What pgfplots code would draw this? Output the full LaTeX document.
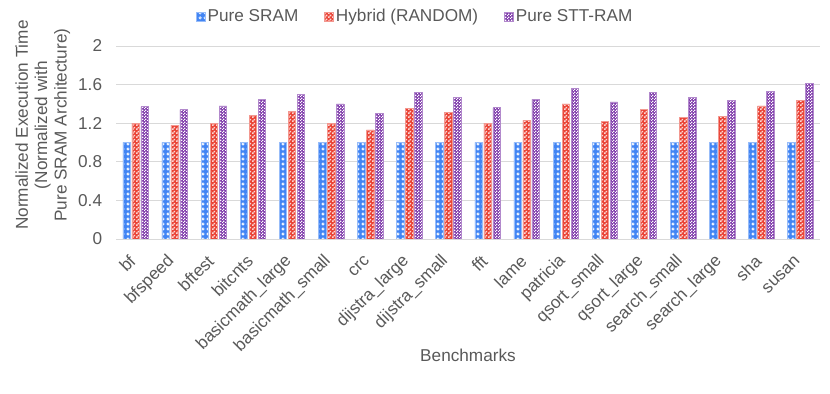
\documentclass[border=0pt]{standalone}
\usepackage{fontspec}
\setmainfont{Liberation Sans}
\usepackage{pgfplots}
\pgfplotsset{compat=1.18}
\usepackage{pgfplotstable}
\usetikzlibrary{patterns,patterns.meta}

\definecolor{cBlue}{RGB}{66,133,244}
\definecolor{cRed}{RGB}{234,67,53}
\definecolor{cPurple}{RGB}{126,58,170}
\definecolor{txt}{RGB}{89,89,89}
\definecolor{gridc}{RGB}{217,217,217}

% excel-ish pattern fills
\pgfdeclarepattern{name=rings, type=uncolored,
  bottom left={\pgfpoint{0bp}{0bp}}, top right={\pgfpoint{4.5bp}{4.5bp}},
  tile size={\pgfpoint{4.5bp}{4.5bp}},
  code={\pgfsetlinewidth{0.7bp}\pgfpathcircle{\pgfpoint{2.25bp}{2.25bp}}{1.3bp}\pgfusepath{stroke}}}
\pgfdeclarepattern{name=checkbig, type=uncolored,
  bottom left={\pgfpoint{0bp}{0bp}}, top right={\pgfpoint{4bp}{4bp}},
  tile size={\pgfpoint{4bp}{4bp}},
  code={\pgfpathrectangle{\pgfpoint{0bp}{0bp}}{\pgfpoint{2bp}{2bp}}\pgfpathrectangle{\pgfpoint{2bp}{2bp}}{\pgfpoint{2bp}{2bp}}\pgfusepath{fill}}}
\pgfdeclarepattern{name=checksmall, type=uncolored,
  bottom left={\pgfpoint{0bp}{0bp}}, top right={\pgfpoint{3bp}{3bp}},
  tile size={\pgfpoint{3bp}{3bp}},
  code={\pgfpathrectangle{\pgfpoint{0bp}{0bp}}{\pgfpoint{1.5bp}{1.5bp}}\pgfpathrectangle{\pgfpoint{1.5bp}{1.5bp}}{\pgfpoint{1.5bp}{1.5bp}}\pgfusepath{fill}}}

\pgfplotstableread{
name  sram  hybrid  stt
bf    1.00  1.20  1.37
bfs   1.00  1.18  1.34
bft   1.00  1.20  1.38
bit   1.00  1.28  1.45
bml   1.00  1.32  1.50
bms   1.00  1.20  1.40
crc   1.00  1.13  1.30
djl   1.00  1.35  1.52
djs   1.00  1.31  1.47
fft   1.00  1.20  1.36
lame  1.00  1.23  1.45
pat   1.00  1.40  1.56
qss   1.00  1.22  1.42
qsl   1.00  1.34  1.52
ses   1.00  1.26  1.47
sel   1.00  1.27  1.44
sha   1.00  1.38  1.53
susan 1.00  1.44  1.61
}\data

\begin{document}
\fontsize{17.25}{19.5}\selectfont
\begin{tikzpicture}
\path[use as bounding box] (0,0) rectangle (830bp,394bp);
\begin{axis}[
  at={(116bp,155bp)}, anchor=south west,
  scale only axis, width=704bp, height=193bp,
  ybar=1.5bp, bar width=7.5bp,
  xmin=-0.5, xmax=17.5, ymin=0, ymax=2,
  ytick={0,0.4,...,2.01},
  yticklabel style={/pgf/number format/fixed, /pgf/number format/precision=1, xshift=-8bp},
  /pgf/number format/assume math mode=true,
  xtick=data,
  xticklabels={bf,bfspeed,bftest,bitcnts,basicmath\_large,basicmath\_small,crc,dijstra\_large,dijstra\_small,fft,lame,patricia,qsort\_small,qsort\_large,search\_small,search\_large,sha,susan},
  xticklabel style={rotate=45, anchor=east, xshift=-10bp, yshift=-11.5bp},
  major tick length=0pt,
  axis line style={draw=none},
  ymajorgrids, grid style={gridc, line width=0.8bp},
  tick label style={text=txt},
  label style={text=txt},
  xlabel={Benchmarks},
  xlabel style={at={(axis description cs:0.5,-0.601)}, anchor=center},
  ylabel={Normalized Execution Time\\(Normalized with\\Pure SRAM Architecture)},
  ylabel style={align=center, at={(axis description cs:-0.104,0.59)}, anchor=center},
  legend columns=3,
  legend style={at={(axis description cs:0.425,1.15)}, anchor=center, draw=none, fill=none,
    text=txt, /tikz/every even column/.append style={column sep=24bp}},
  legend image code/.code={\draw[#1] (0bp,-4.5bp) rectangle (9bp,4.5bp);},
]
\addplot[fill=cBlue, draw=cBlue!55, line width=0.6bp,
  postaction={pattern=rings, pattern color=white}]
  table[x expr=\coordindex, y=sram] {\data};
\addplot[fill=cRed, draw=cRed!55, line width=0.6bp,
  postaction={pattern=checkbig, pattern color=white!80!cRed}]
  table[x expr=\coordindex, y=hybrid] {\data};
\addplot[fill=cPurple, draw=cPurple!60, line width=0.6bp,
  postaction={pattern=checksmall, pattern color=white}]
  table[x expr=\coordindex, y=stt] {\data};
\legend{Pure SRAM,Hybrid (RANDOM),Pure STT-RAM}
\end{axis}
\end{tikzpicture}
\end{document}
